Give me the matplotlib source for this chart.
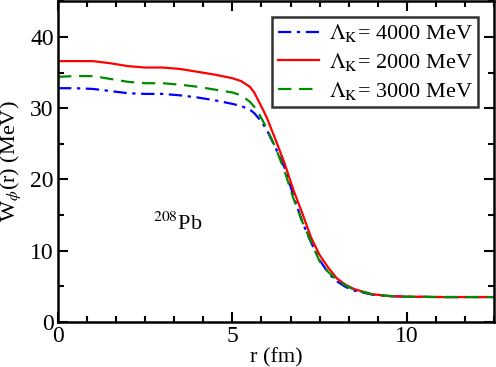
import matplotlib
matplotlib.use("Agg")
import matplotlib.pyplot as plt
from matplotlib.ticker import MultipleLocator

plt.rcParams['font.family'] = ['Liberation Serif', 'DejaVu Serif']
plt.rcParams['mathtext.fontset'] = 'stix'

r = [0, 0.5, 1, 1.5, 2, 2.5, 3, 3.5, 4, 4.5, 5, 5.25, 5.5, 5.625, 5.75, 5.875, 6,
     6.25, 6.5, 6.75, 7, 7.25, 7.5, 7.75, 8, 8.25, 8.5, 9, 9.5, 10, 11, 12.5]

w_4000 = [32.8, 32.8, 32.7, 32.4, 32.1, 32.0, 32.0, 31.8, 31.5, 31.1, 30.6, 30.3,
          29.8, 29.3, 28.6, 27.8, 26.8, 24.3, 21.6, 17.7, 14.1, 11.2, 8.7, 6.85,
          5.7, 4.9, 4.4, 3.85, 3.62, 3.55, 3.5, 3.5]
w_2000 = [36.6, 36.6, 36.6, 36.3, 35.9, 35.7, 35.7, 35.5, 35.1, 34.7, 34.2, 33.8,
          33.0, 32.2, 31.0, 29.8, 28.5, 25.4, 22.2, 18.5, 15.3, 11.9, 9.4, 7.6,
          6.1, 5.2, 4.6, 3.9, 3.65, 3.55, 3.5, 3.5]
w_3000 = [34.4, 34.5, 34.5, 34.1, 33.7, 33.5, 33.5, 33.3, 33.0, 32.6, 32.2, 31.8,
          30.9, 30.2, 29.3, 28.2, 27.0, 24.3, 21.1, 17.3, 14.1, 11.3, 8.5, 7.0,
          5.9, 5.1, 4.5, 3.9, 3.65, 3.55, 3.5, 3.5]

labels = [r'$\Lambda_{\mathrm{K}}$= 4000 MeV',
          r'$\Lambda_{\mathrm{K}}$= 2000 MeV',
          r'$\Lambda_{\mathrm{K}}$= 3000 MeV']

fig = plt.figure(figsize=(4.96, 3.67), dpi=100)
ax = fig.add_axes([0.117, 0.1226, 0.879, 0.874])

ax.plot(r, w_4000, color='#0000ff', lw=1.6, dashes=(6, 2.5, 1.5, 2.5), label=labels[0])
ax.plot(r, w_2000, color='#ff0000', lw=1.6, label=labels[1])
ax.plot(r, w_3000, color='#008c00', lw=1.6, dashes=(6, 3.5), label=labels[2])

ax.set_xlim(0, 12.5)
ax.set_ylim(0, 45)
ax.xaxis.set_major_locator(MultipleLocator(5))
ax.xaxis.set_minor_locator(MultipleLocator(5/6))
ax.yaxis.set_major_locator(MultipleLocator(10))
ax.yaxis.set_minor_locator(MultipleLocator(5))
ax.tick_params(which='both', direction='in', top=True, right=True, width=1.5,
               labelsize=17, pad=3)
ax.tick_params(which='major', length=7)
ax.tick_params(which='minor', length=4)
for s in ax.spines.values():
    s.set_linewidth(1.8)

ax.set_xlabel('r (fm)', fontsize=16, labelpad=1)
ax.set_ylabel(r'W$_{\phi}$(r) (MeV)', fontsize=16, labelpad=5)

ax.text(3.42, 13.0, r'$^{208}$Pb', fontsize=16, ha='center', va='baseline')

leg = ax.legend(loc='upper right', fontsize=16, frameon=True, fancybox=False,
                edgecolor='black', handlelength=1.85, borderpad=0.25,
                labelspacing=0.3, handletextpad=0.45, borderaxespad=0.7)
leg.get_frame().set_linewidth(1.8)

fig.savefig('out.png', dpi=100)
